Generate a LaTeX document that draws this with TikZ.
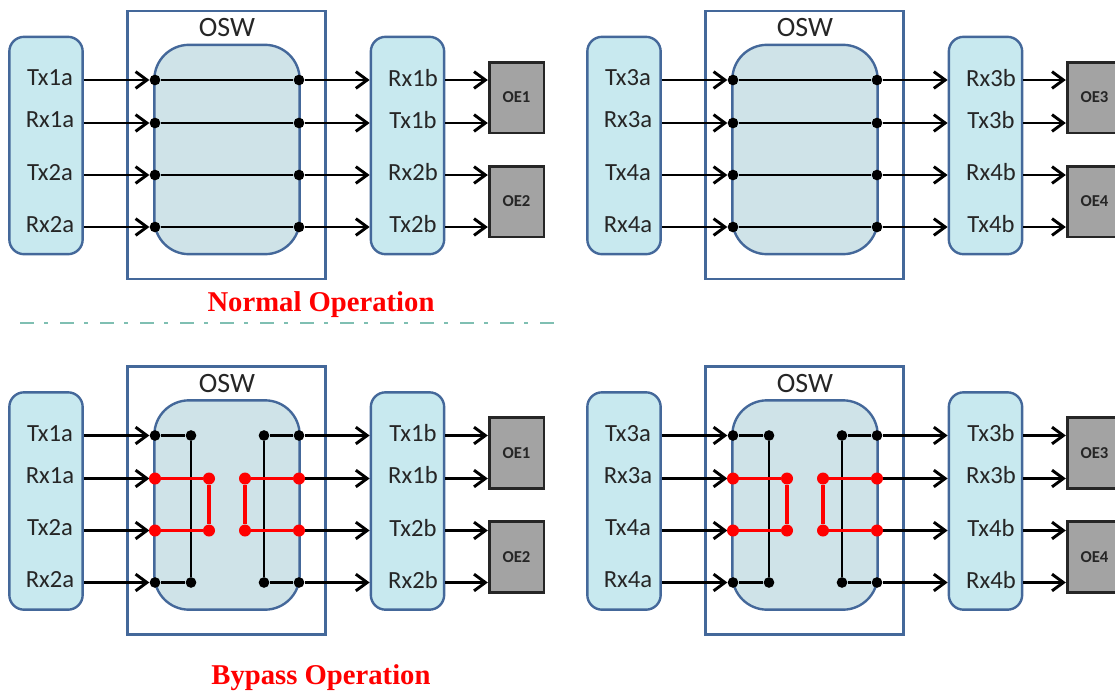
\documentclass[tikz,border=0pt]{standalone}
\usepackage{fontspec}
\setmainfont{Carlito}
\newfontfamily\titlefont{Liberation Serif}
\usepackage{tikz}
\usetikzlibrary{positioning, arrows.meta, calc}
\definecolor{frameblue}{HTML}{44689A}
\definecolor{portfill}{HTML}{C8E9EF}
\definecolor{switchfill}{HTML}{CFE3E8}
\definecolor{oefill}{HTML}{A3A3A3}
\definecolor{dividerteal}{HTML}{7FBFB2}
\tikzstyle{arrow} = [line width=2.2pt,-{Straight Barb[length=8.5pt,width=12.5pt]}]
\tikzstyle{wire} = [line width=2.2pt]
\tikzstyle{redwire} = [line width=2.5pt, red]
\tikzstyle{frame} = [rectangle, minimum width=149pt, minimum height=201pt, draw=frameblue, line width=2.2pt]
\tikzstyle{switch} = [rectangle, rounded corners=26pt, minimum width=109pt, minimum height=157pt, draw=frameblue, line width=1.8pt, fill=switchfill]
\tikzstyle{port} = [rectangle, rounded corners=11pt, minimum width=55pt, minimum height=163pt, draw=frameblue, line width=1.8pt, fill=portfill]
\tikzstyle{oe} = [rectangle, minimum width=41pt, minimum height=53pt, draw=black!85, line width=2pt, fill=oefill, text=black!85, font=\bfseries\fontsize{12.5}{14}\selectfont]
\tikzstyle{signal} = [font=\fontsize{18.5}{21}\selectfont, text=black!85, inner sep=0pt]
\tikzstyle{oswlabel} = [font=\fontsize{21}{24}\selectfont, text=black!85, inner sep=0pt]
\tikzstyle{opname} = [font=\titlefont\bfseries\fontsize{21.5}{24}\selectfont, text=red, inner sep=0pt]
\tikzstyle{dot} = [circle, fill=black, inner sep=0pt, minimum size=8pt]
\tikzstyle{reddot} = [circle, fill=red, inner sep=0pt, minimum size=9pt]
\begin{document}
\begin{tikzpicture}[x=0.75pt, y=-0.75pt]
        \useasboundingbox (0,0) rectangle (1115,693);
        \foreach \panel/\dx/\dy/\ida/\idb/\first/\second in {na/0/0/1/2/Rx/Tx, nb/578/0/3/4/Rx/Tx, ba/0/355.5/1/2/Tx/Rx, bb/578/355.5/3/4/Tx/Rx} {
        \begin{scope}[shift={(\dx,\dy)}]
        \node (\panel-frame) [frame] at (226.5,145) {};
        \node (\panel-osw) [oswlabel] at (227,28) {OSW};
        \node (\panel-switch) [switch] at (227,149.5) {};
        \node (\panel-left) [port] at (46,145.5) {};
        \node (\panel-right) [port] at (407.5,145.5) {};
        \node (\panel-oea) [oe] at (516.5,97.5) {OE\ida};
        \node (\panel-oeb) [oe] at (516.5,201.5) {OE\idb};
        \foreach \row/\ypos/\ytext/\lefttext/\righttext/\oename in {1/80/78/Tx\ida a/\first\ida b/oea, 2/123/120/Rx\ida a/\second\ida b/oea, 3/175/172.5/Tx\idb a/\first\idb b/oeb, 4/227/224.5/Rx\idb a/\second\idb b/oeb} {
                \node (\panel-ltext\row) [signal] at (50,\ytext) {\lefttext};
                \node (\panel-rtext\row) [signal] at (413,\ytext) {\righttext};
                \coordinate (\panel-a\row) at (\panel-left.east |- 0,\ypos);
                \coordinate (\panel-b\row) at (\panel-right.west |- 0,\ypos);
                \coordinate (\panel-c\row) at (\panel-right.east |- 0,\ypos);
                \coordinate (\panel-d\row) at (\panel-\oename.west |- 0,\ypos);
                \node (\panel-in\row) [dot] at (155,\ypos) {};
                \node (\panel-out\row) [dot] at (299,\ypos) {};
                \draw [arrow] (\panel-a\row) -- (\panel-in\row);
                \draw [arrow] (\panel-out\row) -- (\panel-b\row);
                \draw [arrow] (\panel-c\row) -- (\panel-d\row);
        }
        \end{scope}
        }
        % normal operation
        \foreach \panel in {na, nb} {
                \foreach \row in {1,2,3,4} {
                        \draw [wire] (\panel-in\row) -- (\panel-out\row);
                }
        }
        % bypass operation
        \foreach \panel/\dx in {ba/0, bb/578} {
        \begin{scope}[shift={(\dx,355.5)}]
        \node (\panel-lup) [dot] at (191,80) {};
        \node (\panel-ldown) [dot] at (191,227) {};
        \node (\panel-rup) [dot] at (264,80) {};
        \node (\panel-rdown) [dot] at (264,227) {};
        \draw [wire] (\panel-in1) -- (\panel-lup) -- (\panel-ldown) -- (\panel-in4);
        \draw [wire] (\panel-out1) -- (\panel-rup) -- (\panel-rdown) -- (\panel-out4);
        \node (\panel-lred2) [reddot] at (155,123) {};
        \node (\panel-lred3) [reddot] at (155,175) {};
        \node (\panel-ltop) [reddot] at (209,123) {};
        \node (\panel-lbot) [reddot] at (209,175) {};
        \node (\panel-rred2) [reddot] at (299,123) {};
        \node (\panel-rred3) [reddot] at (299,175) {};
        \node (\panel-rtop) [reddot] at (245,123) {};
        \node (\panel-rbot) [reddot] at (245,175) {};
        \draw [redwire] (\panel-lred2) -- (\panel-ltop) -- (\panel-lbot) -- (\panel-lred3);
        \draw [redwire] (\panel-rred2) -- (\panel-rtop) -- (\panel-rbot) -- (\panel-rred3);
        \end{scope}
        }
        \node (normal) [opname] at (321,305) {Normal Operation};
        \node (bypass) [opname] at (321,678) {Bypass Operation};
        \coordinate (divleft) at (20,323);
        \coordinate (divright) at (557,323);
        \draw [dividerteal, line width=2.2pt, dash pattern=on 10.5pt off 7.5pt on 3pt off 9pt] (divleft) -- (divright);
\end{tikzpicture}
\end{document}
